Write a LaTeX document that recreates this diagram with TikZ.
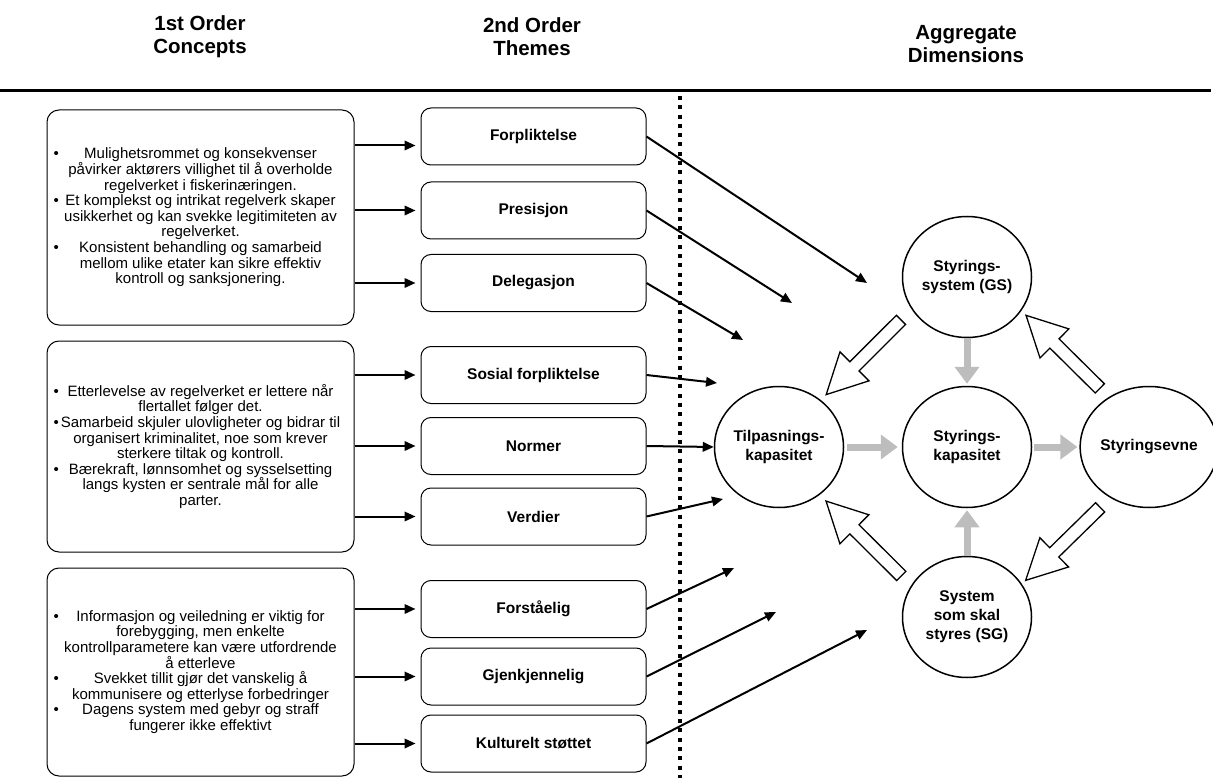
\documentclass[tikz,border=0pt]{standalone}
\usepackage{fontspec}
\setmainfont{Liberation Sans}
\usetikzlibrary{arrows.meta,shapes.geometric,calc}
\definecolor{flowgray}{HTML}{BDBDBD}

% one bullet line: bullet at the left, words centred
\newcommand{\itemline}[1]{\hbox to 294pt{\rlap{\textbullet}\hfil#1\hfil}}
% open block arrow from #1 to #2
\newcommand{\hollowarrow}[2]{%
  \draw[hollow] let \p1=(#1), \p2=(#2), \p3=($(\p2)!40pt!(\p1)$) in
    ($(\p1)!6.5pt!90:(\p2)$) -- ($(\p3)!6.5pt!90:(\p2)$) -- ($(\p3)!20.5pt!90:(\p2)$) -- (\p2)
    -- ($(\p3)!20.5pt!-90:(\p2)$) -- ($(\p3)!6.5pt!-90:(\p2)$) -- ($(\p1)!6.5pt!-90:(\p2)$) -- cycle;}

\begin{document}
\begin{tikzpicture}[x=1pt,y=-1pt,>={Triangle[length=11pt,width=9.5pt]},
  head/.style={align=center,font=\bfseries\fontsize{20.5}{23.5}\selectfont},
  concept/.style={draw,rounded corners=12pt,line width=1pt,minimum width=307pt,inner xsep=2pt,align=center,font=\fontsize{15}{15.6}\selectfont},
  theme/.style={draw,rounded corners=10pt,line width=1pt,minimum width=225pt,minimum height=57pt,font=\bfseries\fontsize{15.5}{19}\selectfont},
  dim/.style={draw,ellipse,line width=1.5pt,minimum width=129pt,minimum height=121pt,inner sep=0pt,align=center,font=\bfseries\fontsize{15.5}{19}\selectfont},
  link/.style={line width=2pt,->},
  flow/.style={draw=flowgray,line width=7pt,-{Triangle[length=17pt,width=24pt]}},
  hollow/.style={draw,fill=white,line width=1.3pt,line join=miter}]
\useasboundingbox (0,0) rectangle (1213,778);

% headings
\node[head] (h1) at (200,36.5) {1st Order\\Concepts};
\node[head] (h2) at (532,36.5) {2nd Order\\Themes};
\node[head] (h3) at (966,44) {Aggregate\\Dimensions};
\draw[line width=3pt] (0,91) -- (1211,91);
\draw[line width=4pt,dash pattern=on 4pt off 5.3pt] (680,96) -- (680,778);

% 1st order concepts
\node[concept,minimum height=215pt] (c1) at (200.5,217.5) {\itemline{Mulighetsrommet og konsekvenser}\\påvirker aktørers villighet til å overholde\\regelverket i fiskerinæringen.\\\itemline{Et komplekst og intrikat regelverk skaper}\\usikkerhet og kan svekke legitimiteten av\\regelverket.\\\itemline{Konsistent behandling og samarbeid}\\mellom ulike etater kan sikre effektiv\\kontroll og sanksjonering.};
\node[concept,minimum height=211pt] (c2) at (200.5,446.5) {\itemline{Etterlevelse av regelverket er lettere når}\\flertallet følger det.\\\itemline{Samarbeid skjuler ulovligheter og bidrar til}\\organisert kriminalitet, noe som krever\\sterkere tiltak og kontroll.\\\itemline{Bærekraft, lønnsomhet og sysselsetting}\\langs kysten er sentrale mål for alle\\parter.};
\node[concept,minimum height=208pt] (c3) at (200.5,672) {\itemline{Informasjon og veiledning er viktig for}\\forebygging, men enkelte\\kontrollparametere kan være utfordrende\\å etterleve\\\itemline{Svekket tillit gjør det vanskelig å}\\kommunisere og etterlyse forbedringer\\\itemline{Dagens system med gebyr og straff}\\fungerer ikke effektivt};

% 2nd order themes
\node[theme] (forp) at (533.5,136.5) {Forpliktelse};
\node[theme] (pres) at (533.5,210.5) {Presisjon};
\node[theme] (dele) at (533.5,283) {Delegasjon};
\node[theme] (sosi) at (533.5,375) {Sosial forpliktelse};
\node[theme] (norm) at (533.5,446) {Normer};
\node[theme] (verd) at (533.5,516.5) {Verdier};
\node[theme] (fors) at (533.5,609) {Forståelig};
\node[theme] (gjen) at (533.5,676.5) {Gjenkjennelig};
\node[theme] (kult) at (533.5,743.5) {Kulturelt støttet};

\draw[link,shorten >=5pt] ([yshift=-9pt]c1.east |- forp.west) -- ([yshift=-9pt]forp.west);
\draw[link,shorten >=5pt] (c1.east |- pres.west) -- (pres.west);
\draw[link,shorten >=5pt] (c1.east |- dele.west) -- (dele.west);
\draw[link,shorten >=5pt] (c2.east |- sosi.west) -- (sosi.west);
\draw[link,shorten >=5pt] (c2.east |- norm.west) -- (norm.west);
\draw[link,shorten >=5pt] (c2.east |- verd.west) -- (verd.west);
\draw[link,shorten >=5pt] (c3.east |- fors.west) -- (fors.west);
\draw[link,shorten >=5pt] (c3.east |- gjen.west) -- (gjen.west);
\draw[link,shorten >=5pt] (c3.east |- kult.west) -- (kult.west);

% aggregate dimensions
\node[dim] (gs) at (967,277) {Styrings-\\system (GS)};
\node[dim] (tilp) at (779,447) {Tilpasnings-\\kapasitet};
\node[dim] (kap) at (967,447) {Styrings-\\kapasitet};
\node[dim] (sevne) at (1149,447) {Styringsevne};
\node[dim] (sg) at (967,617) {System\\som skal\\styres (SG)};

\coordinate (tforp) at (867,283);
\coordinate (tpres) at (792,303);
\coordinate (tdele) at (743,340);
\coordinate (tsosi) at (717,383);
\coordinate (tverd) at (723,499);
\coordinate (tfors) at (734,568);
\coordinate (tgjen) at (776,612);
\coordinate (tkult) at (867,630);
\draw[link] (forp.east) -- (tforp);
\draw[link] (pres.east) -- (tpres);
\draw[link] (dele.east) -- (tdele);
\draw[link] (sosi.east) -- (tsosi);
\draw[link] (norm.east) -- (tilp.west);
\draw[link] (verd.east) -- (tverd);
\draw[link] (fors.east) -- (tfors);
\draw[link] (gjen.east) -- (tgjen);
\draw[link] (kult.east) -- (tkult);

\draw[flow,shorten >=2pt] (gs) -- (kap);
\draw[flow,shorten <=3pt,shorten >=4pt] (tilp) -- (kap);
\draw[flow,shorten <=2pt,shorten >=2pt] (kap) -- (sevne);
\draw[flow,shorten >=2pt] (sg) -- (kap);

\hollowarrow{$(gs.center)!1.23!(gs.213)$}{$(tilp.center)!1.12!(tilp.48)$}
\hollowarrow{$(sevne.center)!1.19!(sevne.130)$}{$(gs.center)!1.1!(gs.327)$}
\hollowarrow{$(sevne.center)!1.21!(sevne.231)$}{$(sg.center)!1.08!(sg.32)$}
\hollowarrow{$(sg.center)!1.21!(sg.148)$}{$(tilp.center)!1.14!(tilp.311)$}
\end{tikzpicture}
\end{document}
